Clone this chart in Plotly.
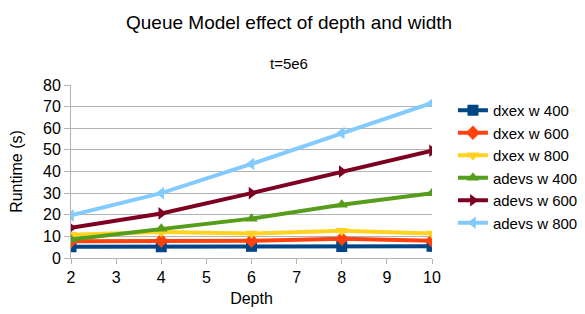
import plotly.graph_objects as go

depth = [2, 4, 6, 8, 10]
series_names = ["dxex w 400", "dxex w 600", "dxex w 800", "adevs w 400", "adevs w 600", "adevs w 800"]
dxex_w400 = [5.2, 5.2, 5.4, 5.3, 5.4]
dxex_w600 = [7.8, 8.0, 8.0, 8.9, 8.0]
dxex_w800 = [10.8, 12.0, 11.3, 12.6, 11.3]
adevs_w400 = [8.5, 13.5, 18.2, 24.6, 30.0]
adevs_w600 = [14.0, 20.6, 30.0, 40.0, 49.6]
adevs_w800 = [19.7, 30.0, 43.5, 57.8, 71.7]
series_values = [dxex_w400, dxex_w600, dxex_w800, adevs_w400, adevs_w600, adevs_w800]

colors = ["#004586", "#ff420e", "#ffd320", "#579d1c", "#7e0021", "#83caff"]
symbols = ["square", "diamond", "triangle-down", "triangle-up", "triangle-right", "triangle-left"]

fig = go.Figure()
for name, vals, c, s in zip(series_names, series_values, colors, symbols):
    fig.add_trace(go.Scatter(
        x=depth, y=vals, name=name, mode="lines+markers",
        line=dict(color=c, width=4),
        marker=dict(symbol=s, size=11, color=c),
    ))

fig.update_layout(
    width=577, height=306,
    margin=dict(l=63, r=153, t=77, b=56, autoexpand=False),
    paper_bgcolor="white", plot_bgcolor="white",
    font=dict(family="Liberation Sans", color="black"),
    annotations=[
        dict(text="Queue Model effect of depth and width", xref="paper", yref="paper",
             x=0.603, y=1.0, yshift=63, xanchor="center", yanchor="middle",
             showarrow=False, font=dict(size=19)),
        dict(text="t=5e6", xref="paper", yref="paper", x=0.603, y=1.0,
             yshift=22, xanchor="center", yanchor="middle", showarrow=False,
             font=dict(size=15)),
    ],
    xaxis=dict(range=[2, 10], tickmode="linear", dtick=1, showgrid=False,
               ticks="outside", ticklen=5, tickcolor="#b3b3b3",
               showline=True, linecolor="#b3b3b3", mirror=False,
               tickfont=dict(size=16), automargin=False,
               title=dict(text="Depth", font=dict(size=16), standoff=7)),
    yaxis=dict(range=[0, 80], dtick=10, showgrid=True, gridcolor="#b3b3b3",
               zeroline=False, showline=True, linecolor="#b3b3b3",
               ticks="outside", ticklen=6, tickcolor="#b3b3b3",
               tickfont=dict(size=16), automargin=False,
               title=dict(text="Runtime (s)", font=dict(size=16), standoff=21)),
    legend=dict(x=1.058, y=0.948, xanchor="left", yanchor="top",
                font=dict(size=15), tracegroupgap=0, itemwidth=30),
    showlegend=True,
)
fig.write_html("out.html")
